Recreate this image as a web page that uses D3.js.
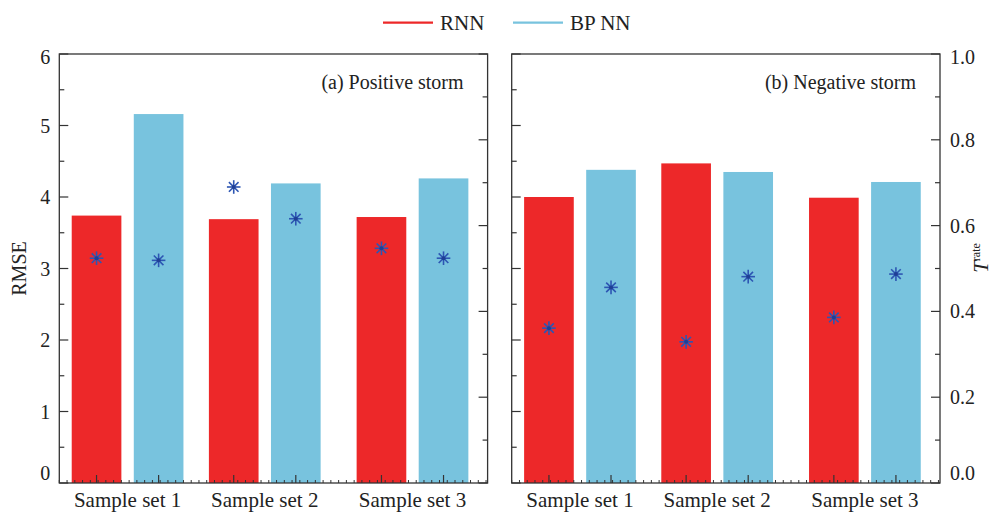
<!DOCTYPE html>
<html><head><meta charset="utf-8">
<script src="https://cdn.jsdelivr.net/npm/d3@7"></script>
<style>body{margin:0;background:#fff}svg{display:block}text{font-family:"Liberation Serif","Times New Roman",serif;fill:#222}</style>
</head><body>
<svg id="chart" width="995" height="513"></svg>
<script>
// ---- data ----
const categories = ["Sample set 1", "Sample set 2", "Sample set 3"];
const models = ["RNN", "BP NN"];
const groupX = [1.1, 3.31, 5.69];           // group centres on the numeric x axis
const rmsePosRNN = [3.74, 3.69, 3.72];
const rmsePosBP  = [5.16, 4.19, 4.26];
const rmseNegRNN = [4.00, 4.47, 3.99];
const rmseNegBP  = [4.38, 4.35, 4.21];
const tauPosRNN  = [0.524, 0.690, 0.547];
const tauPosBP   = [0.519, 0.616, 0.524];
const tauNegRNN  = [0.361, 0.329, 0.386];
const tauNegBP   = [0.456, 0.481, 0.487];
const rmseTicks = [0, 1, 2, 3, 4, 5, 6];
const tauTicks = ["0.0", "0.2", "0.4", "0.6", "0.8", "1.0"];
const panelTitles = ["(a) Positive storm", "(b) Negative storm"];

const colors = {"RNN": "#ed2829", "BP NN": "#78c3de"};
const starColor = "#2d56b3";
const axisColor = "#333";

const svg = d3.select("#chart");
const plotTop = 54, plotBottom = 483;
const panelW = 428.3;
const panelsLeft = [59.3, 511.7];
const y = d3.scaleLinear().domain([0, 6]).range([plotBottom, plotTop]);
const yT = d3.scaleLinear().domain([0, 1]).range([plotBottom, plotTop]);
// end labels are pulled slightly inside the frame
const labelShift = (v, max) => v === 0 ? -10 : (v === max ? 3 : 0);

const panels = [
  {rnn: rmsePosRNN, bp: rmsePosBP, trnn: tauPosRNN, tbp: tauPosBP, title: panelTitles[0]},
  {rnn: rmseNegRNN, bp: rmseNegBP, trnn: tauNegRNN, tbp: tauNegBP, title: panelTitles[1]}
];

function star(g, cx, cy) {
  const r = 6.8;
  const s = g.append("g").attr("transform", `translate(${cx},${cy})`);
  for (let k = 0; k < 4; k++) {
    const a = k * Math.PI / 4;
    s.append("line")
      .attr("x1", -r * Math.cos(a)).attr("y1", -r * Math.sin(a))
      .attr("x2", r * Math.cos(a)).attr("y2", r * Math.sin(a))
      .attr("stroke", starColor).attr("stroke-width", 1.6);
  }
  s.append("circle").attr("r", 2).attr("fill", "#1f3f95");
}

panels.forEach((p, pi) => {
  const x0 = panelsLeft[pi];
  const x = d3.scaleLinear().domain([0, 6.9]).range([x0, x0 + panelW]);
  const bw = x(0.8) - x(0);
  const g = svg.append("g");

  const bars = [];
  categories.forEach((c, i) => {
    bars.push({m: models[0], xc: groupX[i] - 0.5, v: p.rnn[i], t: p.trnn[i]});
    bars.push({m: models[1], xc: groupX[i] + 0.5, v: p.bp[i], t: p.tbp[i]});
  });

  g.selectAll("rect.bar").data(bars).enter().append("rect")
    .attr("x", d => x(d.xc) - bw / 2)
    .attr("y", d => y(d.v))
    .attr("width", bw)
    .attr("height", d => y(0) - y(d.v))
    .attr("fill", d => colors[d.m]);

  bars.forEach(d => star(g, x(d.xc), yT(d.t)));

  // frame
  g.append("rect").attr("x", x0).attr("y", plotTop).attr("width", panelW).attr("height", plotBottom - plotTop)
    .attr("fill", "none").attr("stroke", axisColor).attr("stroke-width", 1.3);

  const lt = g.append("g");
  // left RMSE ticks (inward)
  d3.range(0, 6.01, 0.5).forEach(v => {
    const major = Math.abs(v - Math.round(v)) < 1e-6;
    lt.append("line").attr("x1", x0).attr("x2", x0 + (major ? 9 : 5))
      .attr("y1", y(v)).attr("y2", y(v)).attr("stroke", axisColor).attr("stroke-width", 1.2);
  });
  // right tau ticks (inward)
  d3.range(0, 10.01, 1).forEach(k => {
    const v = k / 10;
    const major = k % 2 === 0;
    lt.append("line").attr("x1", x0 + panelW).attr("x2", x0 + panelW - (major ? 9 : 5))
      .attr("y1", yT(v)).attr("y2", yT(v)).attr("stroke", axisColor).attr("stroke-width", 1.2);
  });
  // bottom ticks
  d3.range(0, 6.9, 0.125).forEach(v => {
    lt.append("line").attr("x1", x(v)).attr("x2", x(v)).attr("y1", plotBottom).attr("y2", plotBottom - 3)
      .attr("stroke", axisColor).attr("stroke-width", 1);
  });
  bars.forEach(d => {
    lt.append("line").attr("x1", x(d.xc)).attr("x2", x(d.xc)).attr("y1", plotBottom).attr("y2", plotBottom - 8)
      .attr("stroke", axisColor).attr("stroke-width", 1.2);
  });

  // category labels
  g.selectAll("text.cat").data(categories).enter().append("text")
    .attr("x", (d, i) => x(groupX[i])).attr("y", 507)
    .attr("text-anchor", "middle").attr("font-size", 21).text(d => d);

  // title
  g.append("text").attr("x", x0 + panelW - 24).attr("y", 89)
    .attr("text-anchor", "end").attr("font-size", 20).text(p.title);

  if (pi === 0) {
    g.selectAll("text.yl").data(rmseTicks).enter().append("text")
      .attr("x", x0 - 9).attr("y", d => y(d) + labelShift(d, 6)).attr("dy", "0.35em")
      .attr("text-anchor", "end").attr("font-size", 20).text(d => d);
    g.append("text").attr("transform", `translate(26,${(plotTop + plotBottom) / 2}) rotate(-90)`)
      .attr("text-anchor", "middle").attr("font-size", 20).text("RMSE");
  } else {
    g.selectAll("text.yr").data(tauTicks).enter().append("text")
      .attr("x", x0 + panelW + 10).attr("y", d => yT(+d) + labelShift(+d, 1)).attr("dy", "0.35em")
      .attr("text-anchor", "start").attr("font-size", 20).text(d => d);
    const lab = g.append("text").attr("transform", `translate(988,258) rotate(-90)`)
      .attr("text-anchor", "middle");
    lab.append("tspan").attr("font-size", 21).attr("font-style", "italic").text("T");
    lab.append("tspan").attr("font-size", 12).attr("dy", -8).text("rate");
  }
});

// legend
const leg = svg.append("g");
const legItems = [{m: models[0], x: 383}, {m: models[1], x: 513}];
legItems.forEach(d => {
  leg.append("line").attr("x1", d.x).attr("x2", d.x + 50).attr("y1", 22.7).attr("y2", 22.7)
    .attr("stroke", colors[d.m]).attr("stroke-width", 2.2);
  leg.append("text").attr("x", d.x + 57).attr("y", 29.5).attr("font-size", 21).text(d.m);
});
</script>
</body></html>
